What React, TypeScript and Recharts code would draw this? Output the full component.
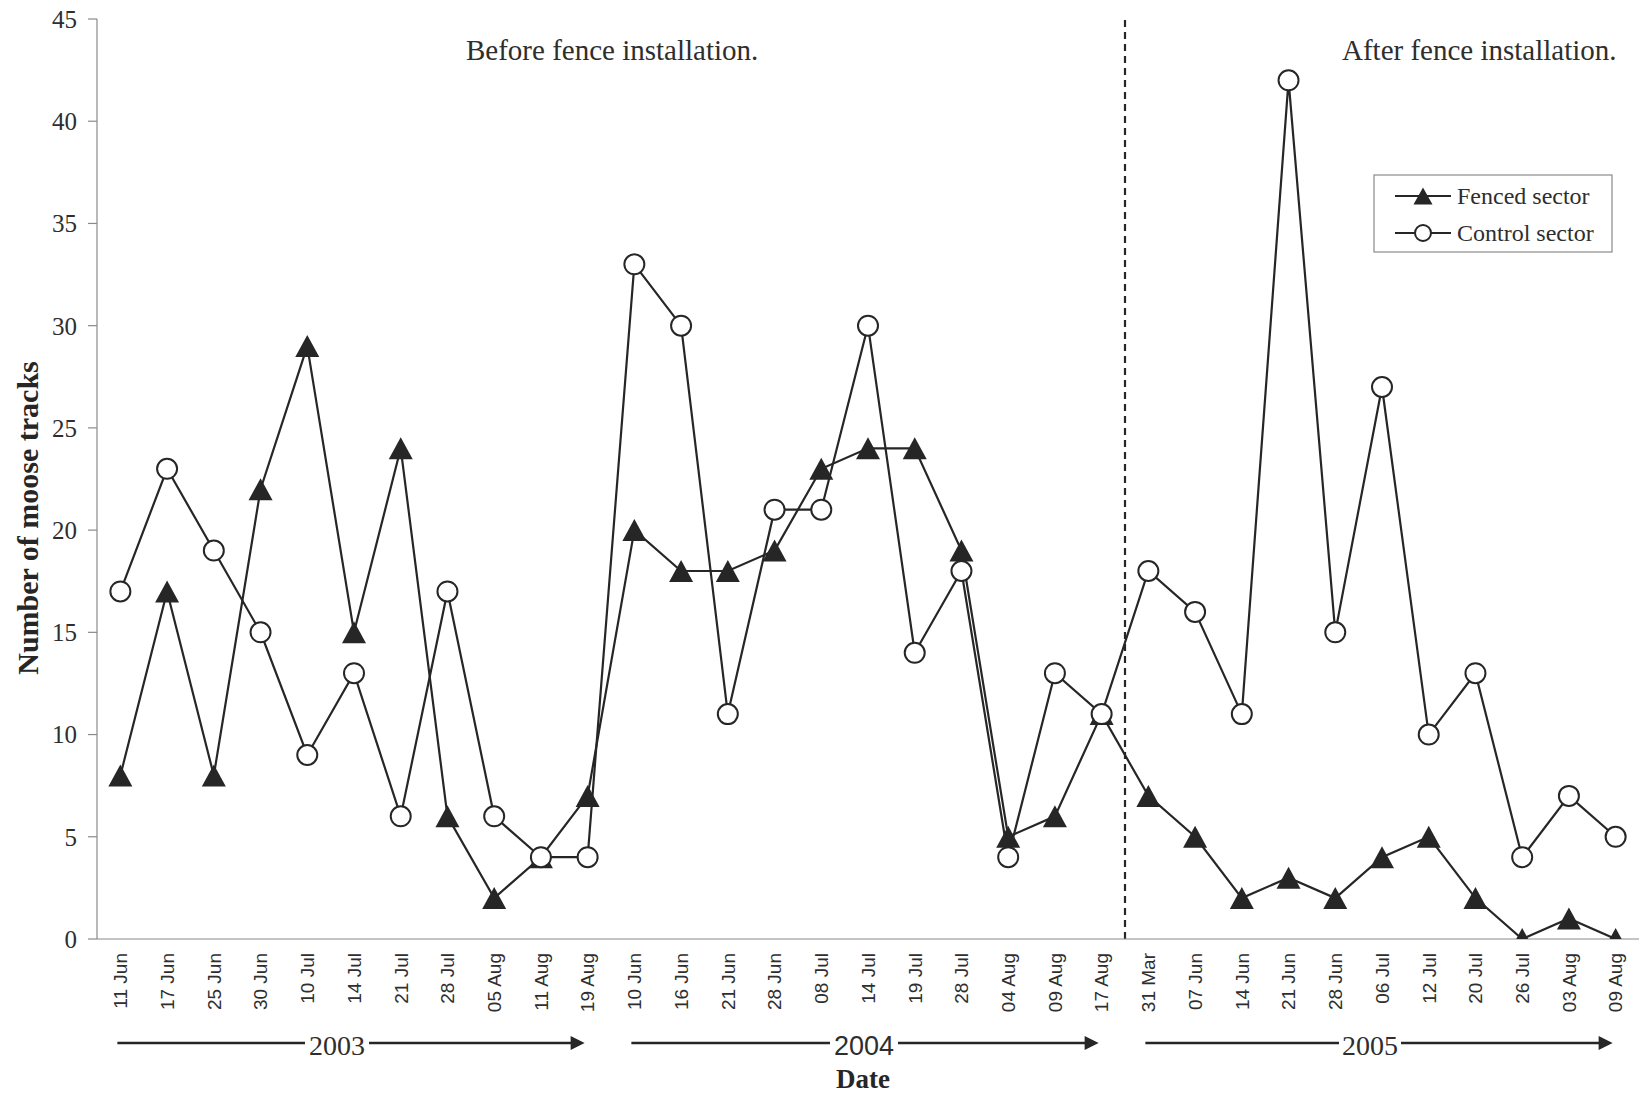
import React from 'react';
import { LineChart, Line, XAxis, YAxis, ReferenceLine } from 'recharts';

const dates = [
  '11 Jun', '17 Jun', '25 Jun', '30 Jun', '10 Jul', '14 Jul', '21 Jul', '28 Jul', '05 Aug', '11 Aug', '19 Aug',
  '10 Jun', '16 Jun', '21 Jun', '28 Jun', '08 Jul', '14 Jul', '19 Jul', '28 Jul', '04 Aug', '09 Aug', '17 Aug',
  '31 Mar', '07 Jun', '14 Jun', '21 Jun', '28 Jun', '06 Jul', '12 Jul', '20 Jul', '26 Jul', '03 Aug', '09 Aug',
];
const years = ['2003', '2004', '2005'];
const yearFirstIndex = [0, 11, 22];
const yearLastIndex = [10, 21, 32];
const fenceIndex = 21.5;

const fenced = [8, 17, 8, 22, 29, 15, 24, 6, 2, 4, 7, 20, 18, 18, 19, 23, 24, 24, 19, 5, 6, 11, 7, 5, 2, 3, 2, 4, 5, 2, 0, 1, 0];
const control = [17, 23, 19, 15, 9, 13, 6, 17, 6, 4, 4, 33, 30, 11, 21, 21, 30, 14, 18, 4, 13, 11, 18, 16, 11, 42, 15, 27, 10, 13, 4, 7, 5];
const yTicks = [0, 5, 10, 15, 20, 25, 30, 35, 40, 45];

const data = dates.map((d, i) => ({ i, date: d, fenced: fenced[i], control: control[i] }));
const labelTicks = dates.map((_, i) => i);
const boundaryTicks = dates.map((_, i) => i - 0.5).concat([dates.length - 0.5]);

const W = 1642;
const H = 1093;
const PLOT_L = 97;
const PLOT_R = 1639;
const band = (PLOT_R - PLOT_L) / dates.length;
const centerX = (i: number) => PLOT_L + (i + 0.5) * band;

const INK = '#262626';
const TXT = '#2e2e2e';
const AXIS = '#8a8a8a';
const SERIF = '"Liberation Serif", "Times New Roman", serif';
const SANS = '"Liberation Sans", Arial, sans-serif';

const Triangle = ({ cx, cy, w = 24, h = 22 }: any) => (
  <path d={`M${cx},${cy - h / 2} L${cx + w / 2},${cy + h / 2} L${cx - w / 2},${cy + h / 2} Z`} fill={INK} />
);

const DateTick = (props: any) => {
  const { x, y, payload } = props;
  const label = dates[payload.value];
  return (
    <text
      x={x}
      y={y}
      transform={`rotate(-90 ${x} ${y})`}
      textAnchor="end"
      dy="0.36em"
      fontFamily={SANS}
      fontSize={19}
      fill={TXT}
    >
      {label}
    </text>
  );
};

const yearStyle = [
  { cx: 337, half: 29, font: SERIF, size: 28 },
  { cx: 864, half: 31, font: SANS, size: 27 },
  { cx: 1370, half: 28, font: SERIF, size: 28 },
];

const Overlay = () => {
  const ay = 1043;
  return (
    <svg width={W} height={H} style={{ position: 'absolute', left: 0, top: 0, pointerEvents: 'none' }}>
      <text x={466} y={60} fontFamily={SERIF} fontSize={29} fill={TXT}>Before fence installation.</text>
      <text x={1342} y={60} fontFamily={SERIF} fontSize={29} fill={TXT}>After fence installation.</text>

      <text
        x={38}
        y={518}
        transform="rotate(-90 38 518)"
        textAnchor="middle"
        fontFamily={SERIF}
        fontWeight="bold"
        fontSize={30}
        fill={INK}
      >
        Number of moose tracks
      </text>
      <text x={863} y={1088} textAnchor="middle" fontFamily={SERIF} fontWeight="bold" fontSize={27} fill={INK}>Date</text>

      {years.map((yr, k) => {
        const s = yearStyle[k];
        const x0 = centerX(yearFirstIndex[k]) - 3;
        const x1 = centerX(yearLastIndex[k]) - 3;
        const head = 14;
        return (
          <g key={yr}>
            <line x1={x0} y1={ay} x2={s.cx - s.half - 3} y2={ay} stroke={INK} strokeWidth={2.3} />
            <line x1={s.cx + s.half + 3} y1={ay} x2={x1 - head + 1} y2={ay} stroke={INK} strokeWidth={2.3} />
            <path d={`M${x1},${ay} L${x1 - head},${ay - 7} L${x1 - head},${ay + 7} Z`} fill={INK} />
            <text x={s.cx} y={ay + 12} textAnchor="middle" fontFamily={s.font} fontSize={s.size} fill={TXT}>{yr}</text>
          </g>
        );
      })}

      <rect x={1374} y={175} width={238} height={77} fill="#fff" stroke={AXIS} strokeWidth={1.2} />
      <line x1={1395} y1={196} x2={1451} y2={196} stroke={INK} strokeWidth={2} />
      <Triangle cx={1423} cy={196} w={19} h={17} />
      <text x={1457} y={204} fontFamily={SERIF} fontSize={24} fill={TXT}>Fenced sector</text>
      <line x1={1395} y1={233} x2={1451} y2={233} stroke={INK} strokeWidth={2} />
      <circle cx={1423} cy={233} r={8} fill="#fff" stroke={INK} strokeWidth={2} />
      <text x={1457} y={241} fontFamily={SERIF} fontSize={24} fill={TXT}>Control sector</text>
    </svg>
  );
};

export default function App() {
  return (
    <div style={{ position: 'absolute', left: 0, top: 0, width: W, height: H, background: '#fff' }}>
      <LineChart width={W} height={H} data={data} margin={{ top: 19, right: W - PLOT_R, left: 0, bottom: 60 }}>
        <XAxis
          xAxisId="a"
          type="number"
          dataKey="i"
          domain={[-0.5, dates.length - 0.5]}
          ticks={boundaryTicks}
          interval={0}
          tick={false}
          tickSize={6}
          height={14}
          axisLine={{ stroke: AXIS, strokeWidth: 1.2 }}
          tickLine={{ stroke: AXIS, strokeWidth: 1.2 }}
          allowDataOverflow
        />
        <XAxis
          xAxisId="b"
          type="number"
          dataKey="i"
          domain={[-0.5, dates.length - 0.5]}
          ticks={labelTicks}
          interval={0}
          tickLine={false}
          axisLine={false}
          tickSize={0}
          tickMargin={0}
          height={80}
          tick={<DateTick />}
          allowDataOverflow
        />
        <YAxis
          width={PLOT_L}
          domain={[0, 45]}
          ticks={yTicks}
          interval={0}
          tickSize={9}
          tickMargin={11}
          tick={{ fontFamily: SERIF, fontSize: 25, fill: TXT }}
          axisLine={{ stroke: AXIS, strokeWidth: 1.2 }}
          tickLine={{ stroke: AXIS, strokeWidth: 1.2 }}
          allowDataOverflow
        />
        <ReferenceLine xAxisId="b" x={fenceIndex} stroke={INK} strokeWidth={2.2} strokeDasharray="7 5" />
        <Line
          xAxisId="b"
          type="linear"
          dataKey="fenced"
          stroke={INK}
          strokeWidth={2.2}
          isAnimationActive={false}
          dot={(p: any) => <Triangle key={`f${p.index}`} cx={p.cx} cy={p.cy} />}
          activeDot={false}
        />
        <Line
          xAxisId="b"
          type="linear"
          dataKey="control"
          stroke={INK}
          strokeWidth={2.2}
          isAnimationActive={false}
          dot={{ r: 10, fill: '#fff', stroke: INK, strokeWidth: 2 }}
          activeDot={false}
        />
      </LineChart>
      <Overlay />
    </div>
  );
}
